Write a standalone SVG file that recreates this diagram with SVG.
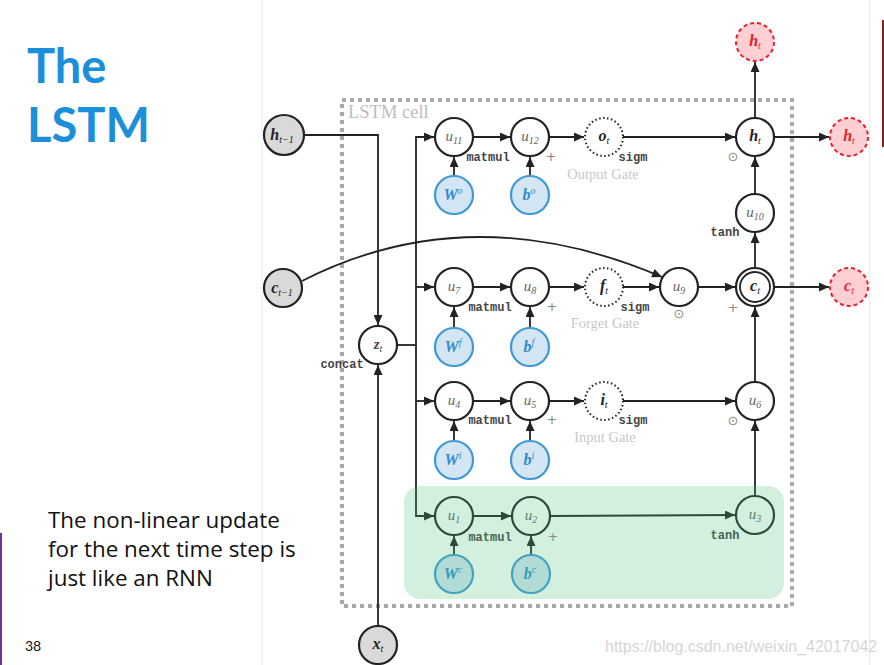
<svg xmlns="http://www.w3.org/2000/svg" width="884" height="665" viewBox="0 0 884 665">
<defs>
<marker id="ah" markerUnits="userSpaceOnUse" markerWidth="11" markerHeight="9" refX="10" refY="4.5" orient="auto">
<path d="M0,0 L10,4.5 L0,9 z" fill="#222"/>
</marker>
<style>
.node{fill:#fff;stroke:#222;stroke-width:2.2}
.in{fill:#d9d9d9;stroke:#222;stroke-width:2.2}
.par{fill:#d4e5f4;stroke:#3d9ad6;stroke-width:2.2}
.gate{fill:#fff;stroke:#222;stroke-width:2;stroke-dasharray:1.5 2.5}
.out{fill:#ffcfd3;stroke:#ee1d2e;stroke-width:2;stroke-dasharray:4 3}
.e{fill:none;stroke:#222;stroke-width:1.8;marker-end:url(#ah)}
.ln{fill:none;stroke:#222;stroke-width:1.8}
.ul{font-family:"Liberation Serif",serif;font-style:italic;font-size:15px;fill:#666;text-anchor:middle}
.bl{font-family:"Liberation Serif",serif;font-style:italic;font-weight:bold;font-size:16px;fill:#222;text-anchor:middle}
.pl{font-family:"Liberation Serif",serif;font-style:italic;font-weight:bold;font-size:16px;fill:#2f8dcc;text-anchor:middle}
.rl{font-family:"Liberation Serif",serif;font-style:italic;font-weight:bold;font-size:16px;fill:#e8202e;text-anchor:middle}
.sub{font-size:10px;font-weight:normal}
.op{font-family:"Liberation Mono",monospace;font-size:12px;font-weight:bold;fill:#444;text-anchor:middle}
.sym{font-family:"DejaVu Sans",sans-serif;font-size:13px;fill:#888;text-anchor:middle}
.gl{font-family:"Liberation Serif",serif;font-size:14.5px;fill:#c8c8c8;text-anchor:middle}
.cell{font-family:"Liberation Serif",serif;font-size:18.5px;fill:#bdbdbd}
.title{font-family:Lato,"Open Sans",sans-serif;font-weight:bold;font-size:47px;fill:#1b8fd9}
.body{font-family:"Open Sans",Lato,sans-serif;font-size:22.4px;fill:#111}
</style>
</defs>
<rect width="884" height="665" fill="#fff"/>
<line x1="262" y1="0" x2="262" y2="665" stroke="#ececec" stroke-width="1"/>
<line x1="869.5" y1="0" x2="869.5" y2="665" stroke="#ececec" stroke-width="1"/>
<line x1="883" y1="20" x2="883" y2="147" stroke="#8b1a1a" stroke-width="2"/>
<line x1="1" y1="533" x2="1" y2="665" stroke="#7030a0" stroke-width="2"/>
<text class="title" x="27" y="83">The</text>
<text class="title" x="27" y="142">LSTM</text>
<text class="body" x="48" y="528">The non-linear update</text>
<text class="body" x="48" y="557">for the next time step is</text>
<text class="body" x="48" y="586">just like an RNN</text>
<text x="25" y="651" font-family="Lato,'Open Sans',sans-serif" font-size="14" fill="#111">38</text>

<rect x="342" y="100" width="450" height="506" fill="none" stroke="#aaa" stroke-width="4" stroke-dasharray="4 4"/>
<text class="cell" x="348" y="118">LSTM cell</text>

<g id="connectors">
<path class="e" d="M304,135 H378 V325"/>
<path class="e" d="M378,626 V365"/>
<path class="ln" d="M397,345 H416"/>
<path class="e" d="M416,345 V137 H434"/>
<path class="e" d="M416,345 V516 H434"/>
<path class="e" d="M416,287 H434"/>
<path class="e" d="M416,401 H434"/>
<path class="e" d="M473,137 H510"/>
<path class="e" d="M549,137 H584"/>
<path class="e" d="M623,137 H735"/>
<path class="e" d="M454,176 V157"/>
<path class="e" d="M530,176 V157"/>
<path class="e" d="M473,287 H510"/>
<path class="e" d="M549,287 H584"/>
<path class="e" d="M623,287 H659"/>
<path class="e" d="M698,287 H735"/>
<path class="e" d="M454,328 V307"/>
<path class="e" d="M530,328 V307"/>
<path class="e" d="M302,281 Q470,195 662,277"/>
<path class="e" d="M473,401 H510"/>
<path class="e" d="M549,401 H584"/>
<path class="e" d="M623,401 H735"/>
<path class="e" d="M454,441 V421"/>
<path class="e" d="M530,441 V421"/>
<path class="e" d="M473,516 H511"/>
<path class="e" d="M550,516 L735,515"/>
<path class="e" d="M454,555 V536"/>
<path class="e" d="M531,555 V536"/>
<path class="e" d="M755,496 V421"/>
<path class="e" d="M755,382 V307"/>
<path class="e" d="M755,268 V233"/>
<path class="e" d="M755,194 V157"/>
<path class="e" d="M755,118 V62"/>
<path class="e" d="M774,137 H829"/>
<path class="e" d="M774,287 H829"/>
</g>

<g id="h_prev"><circle class="in" cx="284" cy="135" r="20"/><text class="bl" x="282" y="140">h<tspan class="sub" dy="3">t−1</tspan></text></g>
<g id="c_prev"><circle class="in" cx="283" cy="288" r="19"/><text class="bl" x="282" y="293">c<tspan class="sub" dy="3">t−1</tspan></text></g>
<g id="z_t"><circle class="node" cx="378" cy="345" r="19"/><text class="ul" x="378" y="349" style="font-weight:bold;fill:#444">z<tspan class="sub" dy="3">t</tspan></text></g>
<g id="x_t"><circle class="in" cx="378" cy="645" r="19"/><text class="bl" x="378" y="649">x<tspan class="sub" dy="3">t</tspan></text></g>
<text class="op" x="342" y="368">concat</text>

<g id="u11"><circle class="node" cx="454" cy="137" r="19"/><text class="ul" x="454" y="141">u<tspan class="sub" dy="3">11</tspan></text></g>
<g id="u12"><circle class="node" cx="530" cy="137" r="19"/><text class="ul" x="530" y="141">u<tspan class="sub" dy="3">12</tspan></text></g>
<g id="o_t"><circle class="gate" cx="604" cy="137" r="19"/><text class="bl" x="604" y="141">o<tspan class="sub" dy="3">t</tspan></text></g>
<g id="h_t"><circle class="node" cx="755" cy="137" r="19"/><text class="bl" x="755" y="141">h<tspan class="sub" dy="3">t</tspan></text></g>
<g id="W_o"><circle class="par" cx="454" cy="195" r="19"/><text class="pl" x="453" y="200">W<tspan class="sub" dy="-6">o</tspan></text></g>
<g id="b_o"><circle class="par" cx="530" cy="195" r="19"/><text class="pl" x="529" y="200">b<tspan class="sub" dy="-6">o</tspan></text></g>
<text class="op" x="488" y="161">matmul</text>
<text class="sym" x="551" y="161">+</text>
<text class="op" x="633" y="161">sigm</text>
<text class="gl" x="603" y="179">Output Gate</text>
<text class="sym" x="733" y="161">⊙</text>

<g id="u10"><circle class="node" cx="755" cy="213" r="19"/><text class="ul" x="755" y="217">u<tspan class="sub" dy="3">10</tspan></text></g>
<text class="op" x="725" y="236">tanh</text>

<g id="u7"><circle class="node" cx="454" cy="287" r="19"/><text class="ul" x="454" y="291">u<tspan class="sub" dy="3">7</tspan></text></g>
<g id="u8"><circle class="node" cx="530" cy="287" r="19"/><text class="ul" x="530" y="291">u<tspan class="sub" dy="3">8</tspan></text></g>
<g id="f_t"><circle class="gate" cx="604" cy="287" r="19"/><text class="bl" x="604" y="291">f<tspan class="sub" dy="3">t</tspan></text></g>
<g id="u9"><circle class="node" cx="679" cy="287" r="19"/><text class="ul" x="679" y="291">u<tspan class="sub" dy="3">9</tspan></text></g>
<g id="c_t"><circle class="node" cx="755" cy="287" r="19"/><circle cx="755" cy="287" r="15" fill="none" stroke="#222" stroke-width="1.8"/><text class="bl" x="755" y="291">c<tspan class="sub" dy="3">t</tspan></text></g>
<g id="W_f"><circle class="par" cx="454" cy="347" r="19"/><text class="pl" x="453" y="352">W<tspan class="sub" dy="-6">f</tspan></text></g>
<g id="b_f"><circle class="par" cx="530" cy="347" r="19"/><text class="pl" x="529" y="352">b<tspan class="sub" dy="-6">f</tspan></text></g>
<text class="op" x="490" y="311">matmul</text>
<text class="sym" x="552" y="311">+</text>
<text class="op" x="635" y="311">sigm</text>
<text class="sym" x="679" y="318">⊙</text>
<text class="gl" x="605" y="328">Forget Gate</text>
<text class="sym" x="733" y="312">+</text>

<g id="u4"><circle class="node" cx="454" cy="401" r="19"/><text class="ul" x="454" y="405">u<tspan class="sub" dy="3">4</tspan></text></g>
<g id="u5"><circle class="node" cx="530" cy="401" r="19"/><text class="ul" x="530" y="405">u<tspan class="sub" dy="3">5</tspan></text></g>
<g id="i_t"><circle class="gate" cx="604" cy="401" r="19"/><text class="bl" x="604" y="405">i<tspan class="sub" dy="3">t</tspan></text></g>
<g id="u6"><circle class="node" cx="755" cy="401" r="19"/><text class="ul" x="755" y="405">u<tspan class="sub" dy="3">6</tspan></text></g>
<g id="W_i"><circle class="par" cx="454" cy="460" r="19"/><text class="pl" x="453" y="465">W<tspan class="sub" dy="-6">i</tspan></text></g>
<g id="b_i"><circle class="par" cx="530" cy="460" r="19"/><text class="pl" x="529" y="465">b<tspan class="sub" dy="-6">i</tspan></text></g>
<text class="op" x="490" y="424">matmul</text>
<text class="sym" x="552" y="424">+</text>
<text class="op" x="633" y="424">sigm</text>
<text class="gl" x="605" y="442">Input Gate</text>
<text class="sym" x="733" y="425">⊙</text>

<g id="u1"><circle class="node" cx="454" cy="516" r="19"/><text class="ul" x="454" y="520">u<tspan class="sub" dy="3">1</tspan></text></g>
<g id="u2"><circle class="node" cx="531" cy="516" r="19"/><text class="ul" x="531" y="520">u<tspan class="sub" dy="3">2</tspan></text></g>
<g id="u3"><circle class="node" cx="755" cy="515" r="19"/><text class="ul" x="755" y="519">u<tspan class="sub" dy="3">3</tspan></text></g>
<g id="W_c"><circle class="par" cx="454" cy="574" r="19"/><text class="pl" x="453" y="579">W<tspan class="sub" dy="-6">c</tspan></text></g>
<g id="b_c"><circle class="par" cx="531" cy="574" r="19"/><text class="pl" x="530" y="579">b<tspan class="sub" dy="-6">c</tspan></text></g>
<text class="op" x="490" y="541">matmul</text>
<text class="sym" x="553" y="541">+</text>
<text class="op" x="725" y="539">tanh</text>

<g id="h_out_top"><circle class="out" cx="755" cy="42" r="19"/><text class="rl" x="755" y="46">h<tspan class="sub" dy="3">t</tspan></text></g>
<g id="h_out_right"><circle class="out" cx="849" cy="137" r="19"/><text class="rl" x="849" y="141">h<tspan class="sub" dy="3">t</tspan></text></g>
<g id="c_out"><circle class="out" cx="849" cy="287" r="19"/><text class="rl" x="849" y="291">c<tspan class="sub" dy="3">t</tspan></text></g>

<rect id="highlight" x="404" y="486" width="380" height="113" rx="16" fill="#50be78" fill-opacity="0.25"/>

<text x="605" y="652" font-family="'Liberation Sans',Arial,sans-serif" font-size="16" fill="#d6d6d6">https://blog.csdn.net/weixin_42017042</text>
</svg>
